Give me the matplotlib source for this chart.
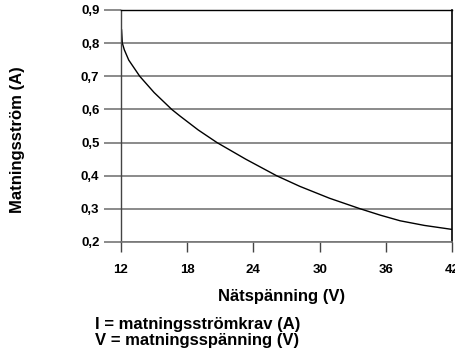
import matplotlib
matplotlib.use("Agg")
import matplotlib.pyplot as plt

plt.rcParams['font.family'] = ['Liberation Sans', 'DejaVu Sans']
plt.rcParams['font.weight'] = 'bold'

# curve
volts = [12.05, 12.12, 12.3, 12.7, 13.7, 15.0, 16.6, 17.35, 19.0, 20.7, 23.3, 26.1, 28.2,
         30.9, 33.7, 35.5, 37.3, 39.5, 42.0]
amps = [0.84, 0.80, 0.78, 0.749, 0.70, 0.651, 0.60, 0.58, 0.538, 0.50, 0.45, 0.40, 0.368,
        0.332, 0.30, 0.281, 0.264, 0.250, 0.238]

xticks = [12, 18, 24, 30, 36, 42]
yticks = [0.2, 0.3, 0.4, 0.5, 0.6, 0.7, 0.8, 0.9]
ylabels = ['0,2', '0,3', '0,4', '0,5', '0,6', '0,7', '0,8', '0,9']

fig = plt.figure(figsize=(4.56, 3.59), dpi=100)
ax = fig.add_axes([121/456, 1 - 242/359, 331/456, 232/359])

ax.plot(volts, amps, color='black', lw=1.0)

ax.set_xlim(12, 42)
ax.set_ylim(0.2, 0.9)
ax.set_xticks(xticks)
ax.set_xticklabels([str(v) for v in xticks], fontsize=9.5, fontweight='bold')
ax.set_yticks(yticks)
ax.set_yticklabels(ylabels, fontsize=9.5, fontweight='bold')

ax.grid(axis='y', color='#777777', lw=1.2)
ax.set_axisbelow(True)
ax.tick_params(axis='y', length=12.5, width=1.2, color='#777777', pad=3)
ax.tick_params(axis='x', length=7.5, width=1.0, color='#444444', pad=8)

ax.spines['bottom'].set_color('#777777')
ax.spines['bottom'].set_linewidth(1.2)
ax.spines['left'].set_color('#444444')
ax.spines['left'].set_linewidth(1.0)
ax.spines['top'].set_color('black')
ax.spines['top'].set_linewidth(1.0)
ax.spines['right'].set_color('black')
ax.spines['right'].set_linewidth(1.2)

fig.text(18/456, 1 - 140/359, 'Matningsström (A)', rotation=90, ha='center', va='center',
         fontsize=12, fontweight='bold')
fig.text(282/456, 1 - 297/359, 'Nätspänning (V)', ha='center', va='center',
         fontsize=12, fontweight='bold')
fig.text(95/456, 1 - 325/359, 'I = matningsströmkrav (A)', ha='left', va='center',
         fontsize=12, fontweight='bold')
fig.text(95/456, 1 - 340/359, 'V = matningsspänning (V)', ha='left', va='center',
         fontsize=12, fontweight='bold')

fig.savefig('out.png', dpi=100)
